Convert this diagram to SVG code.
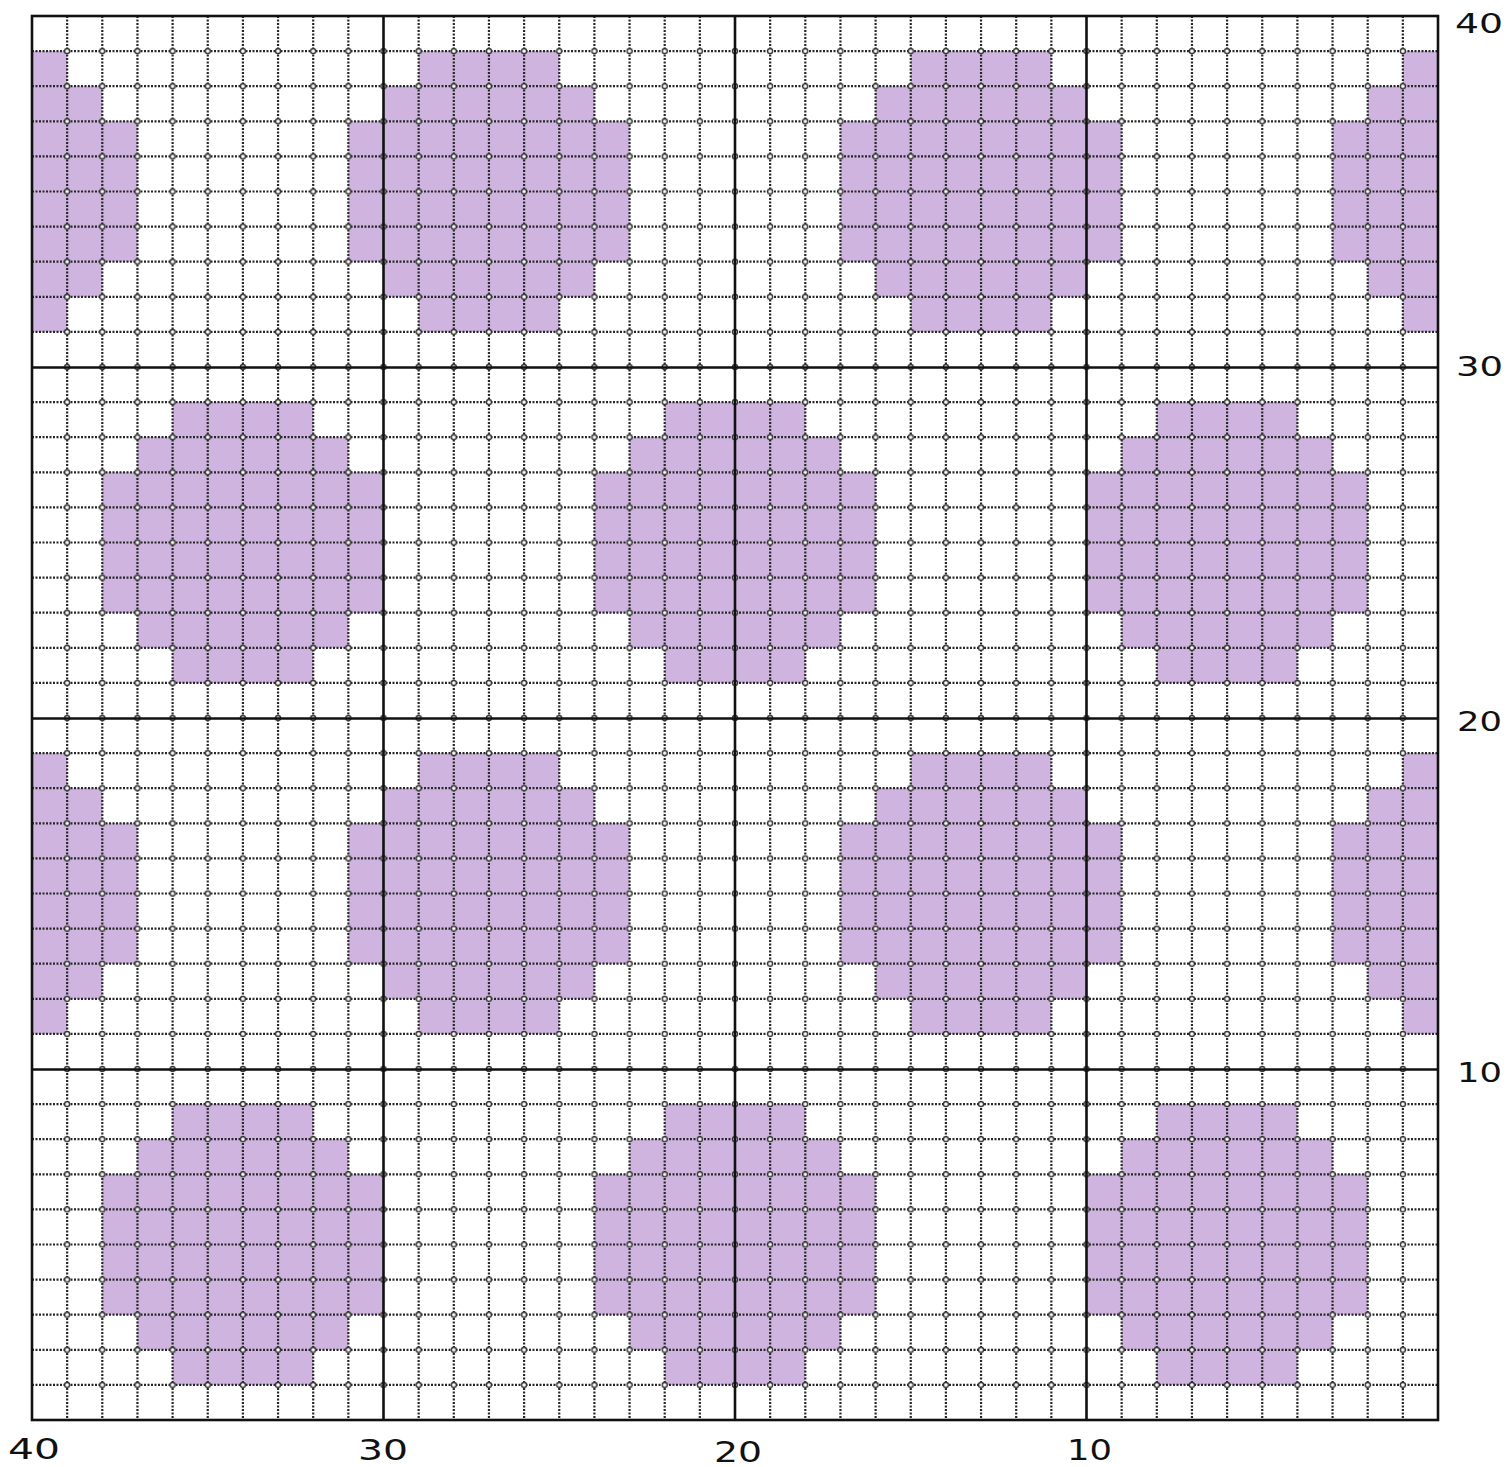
<svg xmlns="http://www.w3.org/2000/svg" width="1510" height="1467" viewBox="0 0 1510 1467">
<style>
.dot{fill:none;stroke:#262626;stroke-width:2.2;stroke-dasharray:2 1.5}
.thick{fill:none;stroke:#111;stroke-width:2.6}
.lbl{font-family:"DejaVu Sans","Liberation Sans",sans-serif;fill:#111}
.fill{fill:#CFB4E0}
</style>
<defs>
<g id="blob" class="fill">
<rect x="-2" y="0" width="4" height="1"/>
<rect x="-3" y="1" width="6" height="1"/>
<rect x="-4" y="2" width="8" height="4"/>
<rect x="-3" y="6" width="6" height="1"/>
<rect x="-2" y="7" width="4" height="1"/>
</g>
<clipPath id="gridclip"><rect x="0" y="0" width="40" height="40"/></clipPath>
<pattern id="rings" patternUnits="userSpaceOnUse" x="14.425" y="-1.55" width="35.15" height="35.1">
<circle cx="17.575" cy="17.55" r="2.5" fill="#fff" stroke="#333" stroke-width="1.4"/>
</pattern>
</defs>
<rect x="0" y="0" width="1510" height="1467" fill="#fff"/>
<g id="cells" transform="translate(32,16) scale(35.15,35.1)">
<g clip-path="url(#gridclip)">
<use href="#blob" transform="translate(-1,1)"/>
<use href="#blob" transform="translate(13,1)"/>
<use href="#blob" transform="translate(27,1)"/>
<use href="#blob" transform="translate(41,1)"/>
<use href="#blob" transform="translate(6,11)"/>
<use href="#blob" transform="translate(20,11)"/>
<use href="#blob" transform="translate(34,11)"/>
<use href="#blob" transform="translate(-1,21)"/>
<use href="#blob" transform="translate(13,21)"/>
<use href="#blob" transform="translate(27,21)"/>
<use href="#blob" transform="translate(41,21)"/>
<use href="#blob" transform="translate(6,31)"/>
<use href="#blob" transform="translate(20,31)"/>
<use href="#blob" transform="translate(34,31)"/>
</g>
</g>
<g id="grid">
<path class="dot" d="M67.15 16V1420M102.3 16V1420M137.45 16V1420M172.6 16V1420M207.75 16V1420M242.9 16V1420M278.05 16V1420M313.2 16V1420M348.35 16V1420M418.65 16V1420M453.8 16V1420M488.95 16V1420M524.1 16V1420M559.25 16V1420M594.4 16V1420M629.55 16V1420M664.7 16V1420M699.85 16V1420M770.15 16V1420M805.3 16V1420M840.45 16V1420M875.6 16V1420M910.75 16V1420M945.9 16V1420M981.05 16V1420M1016.2 16V1420M1051.35 16V1420M1121.65 16V1420M1156.8 16V1420M1191.95 16V1420M1227.1 16V1420M1262.25 16V1420M1297.4 16V1420M1332.55 16V1420M1367.7 16V1420M1402.85 16V1420"/>
<path class="dot" d="M32 51.1H1438M32 86.2H1438M32 121.3H1438M32 156.4H1438M32 191.5H1438M32 226.6H1438M32 261.7H1438M32 296.8H1438M32 331.9H1438M32 402.1H1438M32 437.2H1438M32 472.3H1438M32 507.4H1438M32 542.5H1438M32 577.6H1438M32 612.7H1438M32 647.8H1438M32 682.9H1438M32 753.1H1438M32 788.2H1438M32 823.3H1438M32 858.4H1438M32 893.5H1438M32 928.6H1438M32 963.7H1438M32 998.8H1438M32 1033.9H1438M32 1104.1H1438M32 1139.2H1438M32 1174.3H1438M32 1209.4H1438M32 1244.5H1438M32 1279.6H1438M32 1314.7H1438M32 1349.8H1438M32 1384.9H1438"/>
<rect x="50" y="34" width="1370" height="1368" fill="url(#rings)"/>
<path class="thick" d="M383.5 16V1420M735 16V1420M1086.5 16V1420M32 367.5H1438M32 718.5H1438M32 1069.5H1438"/>
<rect x="32" y="16" width="1406" height="1404" fill="none" stroke="#111" stroke-width="2.6"/>
</g>
<g id="labels">
<text class="lbl" x="1455" y="33" font-size="27" textLength="48" lengthAdjust="spacingAndGlyphs">40</text>
<text class="lbl" x="1456" y="376" font-size="27" textLength="47" lengthAdjust="spacingAndGlyphs">30</text>
<text class="lbl" x="1457" y="731" font-size="27" textLength="45" lengthAdjust="spacingAndGlyphs">20</text>
<text class="lbl" x="1457" y="1082" font-size="27" textLength="45" lengthAdjust="spacingAndGlyphs">10</text>
<text class="lbl" x="8" y="1459" font-size="29" textLength="52" lengthAdjust="spacingAndGlyphs">40</text>
<text class="lbl" x="358" y="1460" font-size="29" textLength="50" lengthAdjust="spacingAndGlyphs">30</text>
<text class="lbl" x="714" y="1462" font-size="29" textLength="48" lengthAdjust="spacingAndGlyphs">20</text>
<text class="lbl" x="1067" y="1460" font-size="29" textLength="45" lengthAdjust="spacingAndGlyphs">10</text>
</g>
</svg>
